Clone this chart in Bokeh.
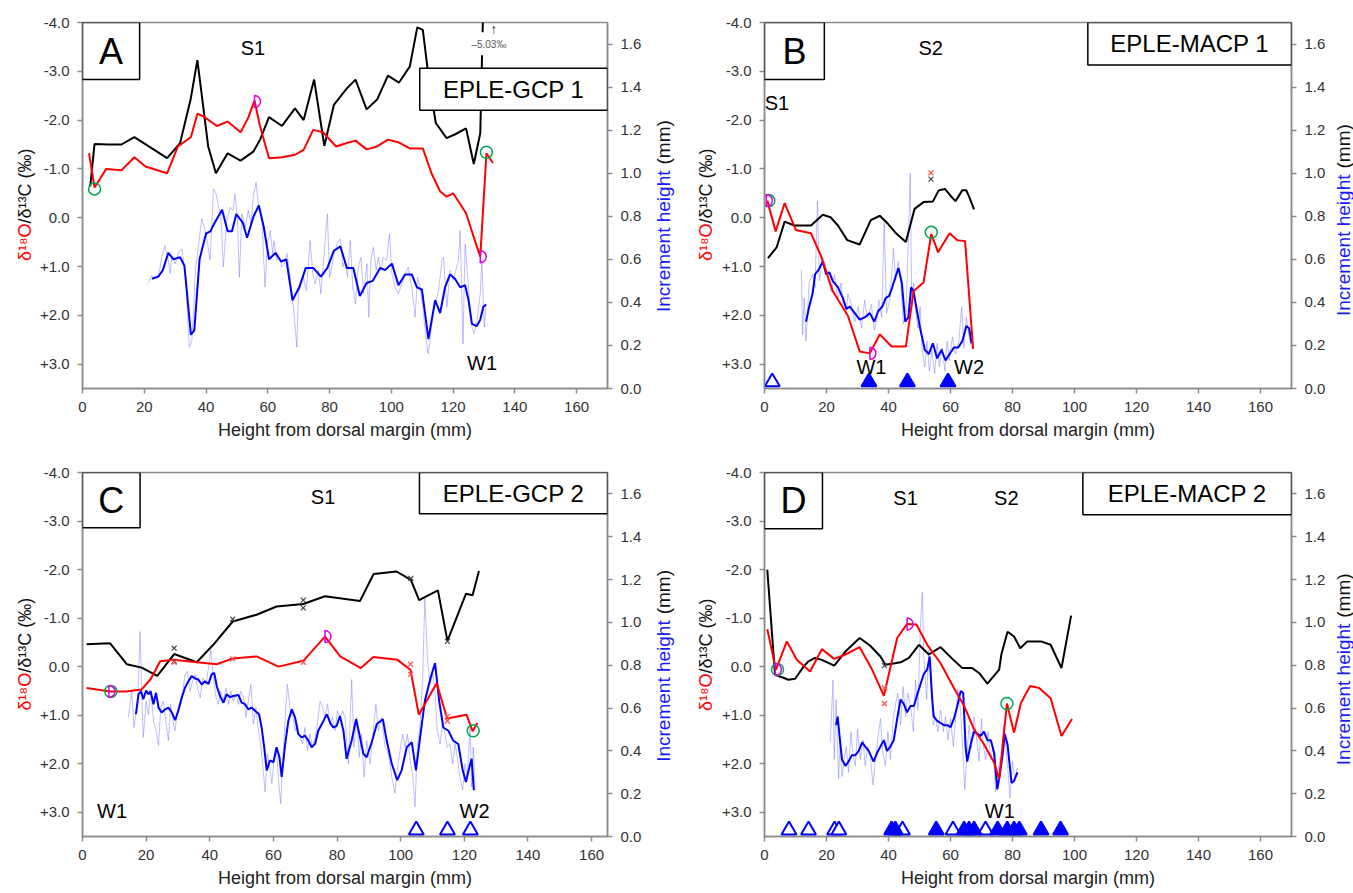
import math
from bokeh.plotting import figure
from bokeh.models import Range1d, LinearAxis, FixedTicker, Label, BoxAnnotation, PrintfTickFormatter
from bokeh.layouts import column, row
from bokeh.embed import file_html
from bokeh.resources import INLINE

FONT = "Liberation Sans"
AX_COLOR = "#8a8a8a"
X_TICKS = [0, 20, 40, 60, 80, 100, 120, 140, 160]
D_TICKS = [-4, -3, -2, -1, 0, 1, 2, 3]
D_LABELS = ["-4.0", "-3.0", "-2.0", "-1.0", "0.0", "+1.0", "+2.0", "+3.0"]
INC_TICKS = [0.0, 0.2, 0.4, 0.6, 0.8, 1.0, 1.2, 1.4, 1.6]
X_LABEL = "Height from dorsal margin (mm)"
Y_LABEL_RED = "δ¹⁸O"
Y_LABEL_BLACK = "/δ¹³C (‰)"
Y2_LABEL_BLUE = "Increment height"
Y2_LABEL_BLACK = "(mm)"
TRI_LEVEL = 0.03

# ---------------- Panel A : EPLE-GCP 1 ----------------
A_black_x = [2.5, 3.9, 8.4, 12.6, 16.8, 27.4, 31.6, 35.0, 37.2, 40.7, 43.2, 47.0, 51.2, 55.4, 57.5, 60.4, 64.6, 68.8, 71.6, 75.0,
             78.3, 81.4, 85.6, 88.4, 92.0, 95.4, 98.9, 102.5, 106.0, 108.4, 110.2, 112.3, 114.4, 117.9, 120.7, 124.2, 126.7, 128.8, 130.0]
A_black = [-0.64, -1.51, -1.50, -1.50, -1.65, -1.22, -1.53, -2.42, -3.23, -1.46, -0.91, -1.32, -1.17, -1.36, -1.60, -2.06, -1.88, -2.24, -2.00, -2.83,
           -1.47, -2.31, -2.65, -2.83, -2.22, -2.42, -2.91, -2.77, -3.10, -3.90, -3.85, -2.76, -1.94, -1.63, -1.71, -1.83, -1.10, -1.73, -5.03]
A_red_x = [2.1, 3.9, 7.7, 12.6, 16.8, 20.4, 27.4, 30.9, 35.1, 37.2, 39.3, 43.5, 47.0, 51.2, 53.6, 55.7, 57.5, 60.4, 64.6, 68.8, 71.6,
           74.7, 77.9, 82.1, 85.6, 88.4, 92.0, 95.4, 98.9, 102.5, 106.0, 110.2, 113.0, 115.8, 117.9, 120.0, 122.1, 124.2, 126.3, 128.8, 130.8, 132.9]
A_red = [-1.32, -0.62, -1.00, -0.97, -1.24, -1.05, -0.91, -1.46, -1.65, -2.13, -2.07, -1.88, -1.97, -1.75, -2.04, -2.40, -1.87, -1.22, -1.24, -1.29, -1.39,
         -1.80, -1.75, -1.46, -1.53, -1.58, -1.40, -1.46, -1.60, -1.54, -1.42, -1.42, -0.91, -0.54, -0.43, -0.50, -0.30, -0.09, 0.32, 0.80, -1.32, -1.12]
A_inc_x = [22.5, 24.6, 26.0, 27.8, 29.5, 31.6, 33.0, 35.1, 36.2, 37.9, 40.0, 41.4, 42.8, 45.2, 47.0, 48.4, 49.8, 51.9, 53.3, 55.4,
           57.1, 58.7, 60.4, 62.5, 64.3, 66.0, 68.0, 70.2, 72.3, 74.7, 77.2, 79.3, 81.4, 83.5, 85.6, 87.7, 89.8, 92.0, 94.0, 96.4,
           98.0, 100.2, 102.3, 104.5, 106.6, 108.3, 109.9, 112.0, 114.2, 115.8, 117.4, 119.0, 120.6, 122.3, 123.9, 125.0, 126.1, 127.7, 128.8, 129.8, 130.7]
A_inc = [0.51, 0.52, 0.55, 0.63, 0.60, 0.61, 0.57, 0.25, 0.27, 0.60, 0.72, 0.73, 0.77, 0.83, 0.73, 0.73, 0.81, 0.77, 0.70, 0.80,
         0.85, 0.75, 0.60, 0.63, 0.59, 0.60, 0.41, 0.47, 0.56, 0.56, 0.52, 0.56, 0.64, 0.66, 0.56, 0.56, 0.43, 0.49, 0.50, 0.56,
         0.55, 0.58, 0.48, 0.53, 0.53, 0.47, 0.46, 0.23, 0.41, 0.35, 0.47, 0.53, 0.51, 0.47, 0.48, 0.41, 0.30, 0.29, 0.32, 0.38, 0.39]
A_raw_x = [21.3, 22.4, 23.5, 24.6, 25.7, 26.7, 27.8, 28.4, 28.9, 30.0, 31.1, 32.2, 32.7, 33.5, 34.0, 34.6, 35.4, 35.9, 36.5, 37.5,
           38.6, 39.4, 40.2, 41.3, 42.4, 43.3, 44.0, 44.8, 45.6, 46.7, 47.8, 48.7, 49.4, 50.2, 50.8, 51.6, 52.7, 53.7, 54.5, 55.3,
           56.2, 57.0, 58.1, 59.1, 59.9, 60.8, 61.6, 62.0, 62.9, 63.8, 64.5, 65.3, 66.2, 67.0, 67.8, 68.5, 69.4, 69.9, 70.7, 71.5,
           72.4, 73.1, 73.7, 74.6, 75.3, 76.4, 77.2, 78.0, 78.9, 79.3, 80.0, 80.7, 81.5, 82.4, 83.5, 84.3, 85.0, 85.8, 86.7, 87.5,
           88.4, 89.3, 90.2, 91.0, 92.1, 92.7, 93.4, 94.2, 95.1, 95.8, 96.6, 97.4, 98.5, 99.4, 100.2, 101.2, 102.3, 103.4, 104.5, 105.5,
           106.6, 107.7, 108.5, 109.3, 110.2, 111.3, 112.0, 113.6, 115.3, 116.4, 116.9, 118.0, 119.0, 120.1, 121.7, 122.3, 123.2, 123.9,
           124.6, 125.3, 126.1, 126.8, 127.7, 128.8, 129.3, 130.1, 130.7]
A_raw = [0.489, 0.525, 0.509, 0.525, 0.610, 0.664, 0.595, 0.533, 0.610, 0.579, 0.633, 0.649, 0.595, 0.517, 0.331, 0.192, 0.223, 0.331, 0.548, 0.656,
         0.788, 0.749, 0.703, 0.595, 0.927, 0.904, 0.842, 0.811, 0.564, 0.780, 0.842, 0.827, 0.904, 0.780, 0.517, 0.811, 0.749, 0.827, 0.765, 0.889,
         0.958, 0.842, 0.796, 0.471, 0.672, 0.734, 0.626, 0.687, 0.595, 0.610, 0.564, 0.579, 0.626, 0.548, 0.440, 0.347, 0.192, 0.440, 0.486, 0.517,
         0.455, 0.564, 0.687, 0.533, 0.486, 0.548, 0.440, 0.579, 0.749, 0.811, 0.517, 0.564, 0.626, 0.672, 0.695, 0.564, 0.595, 0.517, 0.687, 0.471,
         0.393, 0.564, 0.610, 0.440, 0.579, 0.331, 0.595, 0.656, 0.548, 0.610, 0.548, 0.610, 0.595, 0.718, 0.533, 0.471, 0.440, 0.486, 0.533, 0.564,
         0.471, 0.331, 0.517, 0.471, 0.378, 0.223, 0.161, 0.362, 0.455, 0.595, 0.610, 0.378, 0.548, 0.502, 0.595, 0.734, 0.207, 0.672,
         0.548, 0.409, 0.285, 0.254, 0.316, 0.440, 0.595, 0.285, 0.393]
A_green_x = [3.9, 130.8]
A_green = [-0.59, -1.34]
A_mag_x = [55.7, 128.8]
A_mag = [-2.38, 0.80]

# ---------------- Panel B : EPLE-MACP 1 ----------------
B_black_x = [1.1, 3.9, 6.5, 9.6, 15.0, 18.8, 21.3, 23.7, 26.7, 30.7, 34.3, 37.2, 39.9, 42.6, 45.6, 48.4, 51.3, 54.3, 56.2, 58.2,
             60.0, 61.6, 63.8, 65.1, 66.0, 67.6]
B_black = [0.83, 0.61, 0.08, 0.16, 0.16, -0.06, -0.01, 0.16, 0.46, 0.55, 0.05, -0.04, 0.13, 0.33, 0.50, -0.18, -0.32, -0.33, -0.56, -0.59,
           -0.45, -0.34, -0.56, -0.56, -0.43, -0.17]
B_red_x = [0.9, 3.6, 6.5, 10.1, 15.0, 18.2, 22.0, 26.9, 30.7, 34.0, 37.2, 41.0, 45.6, 48.1, 51.3, 53.8, 56.0, 59.7, 62.2, 64.7, 67.3]
B_red = [-0.35, 0.28, -0.30, 0.25, 0.32, 0.78, 1.50, 2.01, 2.74, 2.78, 2.39, 2.64, 2.64, 1.50, 1.33, 0.33, 0.71, 0.32, 0.46, 0.48, 2.69]
B_inc_x = [13.4, 14.4, 15.5, 16.3, 17.4, 18.8, 19.9, 20.9, 22.0, 23.7, 25.3, 26.4, 27.5, 29.1, 30.7, 32.3, 34.0, 35.4, 36.7, 38.0,
           39.1, 40.2, 41.2, 42.3, 43.2, 44.3, 45.4, 46.4, 47.3, 48.1, 49.2, 50.2, 51.7, 53.0, 54.3, 55.7, 57.1, 58.4, 59.7, 61.1,
           62.5, 63.8, 65.1, 66.0, 66.8]
B_inc = [0.31, 0.38, 0.44, 0.53, 0.55, 0.59, 0.53, 0.54, 0.50, 0.47, 0.42, 0.37, 0.38, 0.35, 0.32, 0.33, 0.35, 0.31, 0.36, 0.38,
         0.42, 0.43, 0.47, 0.52, 0.56, 0.49, 0.31, 0.33, 0.47, 0.45, 0.36, 0.28, 0.18, 0.16, 0.21, 0.14, 0.18, 0.13, 0.16, 0.19,
         0.19, 0.22, 0.29, 0.28, 0.21]
B_raw_x = [11.9, 12.3, 12.8, 13.4, 14.4, 15.5, 16.3, 17.1, 17.7, 18.8, 19.9, 20.6, 21.5, 22.6, 23.7, 24.7, 25.3, 26.4, 26.9, 28.0,
           29.1, 30.2, 31.3, 32.3, 33.2, 34.5, 35.4, 36.1, 36.9, 37.8, 38.6, 39.4, 40.5, 41.6, 42.3, 43.2, 44.1, 44.8, 45.6, 46.4,
           47.0, 47.5, 48.1, 48.6, 49.5, 50.2, 50.8, 51.7, 52.4, 53.2, 54.0, 54.9, 55.7, 56.4, 57.3, 58.2, 58.9, 59.7, 60.6, 61.6,
           62.7, 63.6, 64.3, 65.1, 66.0, 66.8]
B_raw = [0.55, 0.25, 0.42, 0.22, 0.49, 0.53, 0.47, 0.87, 0.50, 0.61, 0.56, 0.50, 0.45, 0.53, 0.41, 0.49, 0.38, 0.35, 0.44, 0.39,
         0.31, 0.38, 0.28, 0.41, 0.33, 0.39, 0.27, 0.31, 0.41, 0.33, 0.77, 0.35, 0.42, 0.65, 0.50, 0.59, 0.47, 0.30, 0.35, 0.67,
         1.00, 0.38, 0.49, 0.38, 0.28, 0.38, 0.19, 0.10, 0.22, 0.08, 0.18, 0.07, 0.21, 0.10, 0.19, 0.08, 0.22, 0.13, 0.24, 0.16,
         0.22, 0.38, 0.19, 0.33, 0.24, 0.19]
B_green_x = [1.4, 53.8]
B_green = [-0.35, 0.30]
B_mag_x = [0.6, 34.0]
B_mag = [-0.35, 2.78]
B_xblack_x = [53.7]
B_xblack = [-0.79]
B_xred_x = [53.7]
B_xred = [-0.92]
B_tri_open_x = [2.5]
B_tri_fill_x = [33.7, 46.1, 59.2]

# ---------------- Panel C : EPLE-GCP 2 ----------------
C_black_x = [1.3, 8.7, 13.9, 18.6, 23.5, 28.8, 35.9, 41.1, 47.2, 54.7, 61.0, 69.4, 76.2, 87.2, 91.5, 98.7, 103.2, 105.8, 111.7, 114.7,
             120.5, 122.6, 124.6]
C_black = [-0.46, -0.48, -0.05, 0.02, 0.19, -0.26, -0.09, -0.45, -0.93, -1.07, -1.24, -1.29, -1.45, -1.35, -1.91, -1.96, -1.79, -1.37, -1.57, -0.53,
           -1.50, -1.47, -1.97]
C_red_x = [1.3, 8.7, 13.6, 18.6, 21.5, 24.4, 28.6, 35.9, 42.2, 47.2, 54.7, 61.6, 69.4, 76.2, 81.0, 87.5, 91.4, 99.0, 103.1, 105.7,
           111.3, 114.6, 120.7, 122.6, 124.1]
C_red = [0.44, 0.51, 0.51, 0.47, 0.25, -0.11, -0.14, -0.09, -0.05, -0.17, -0.21, 0.00, -0.12, -0.62, -0.21, 0.03, -0.20, -0.14, 0.07, 0.99,
         0.34, 1.07, 0.99, 1.33, 1.16]
C_inc_x = [16.8, 17.6, 18.4, 19.1, 20.0, 20.7, 21.4, 22.3, 23.1, 23.9, 24.9, 26.0, 27.0, 28.1, 29.1, 30.1, 31.2, 32.2, 33.3, 34.3,
           35.4, 36.4, 37.5, 38.5, 39.6, 40.6, 41.4, 42.2, 43.2, 44.3, 45.3, 46.4, 47.4, 49.0, 50.0, 51.1, 52.1, 53.2, 54.2, 55.5,
           56.3, 57.1, 57.9, 58.9, 60.0, 61.0, 61.9, 62.6, 63.7, 64.7, 65.8, 66.8, 67.8, 68.9, 69.9, 71.0, 72.0, 73.1, 74.1, 75.2,
           76.8, 77.8, 78.8, 79.9, 80.9, 82.0, 83.0, 84.6, 86.0, 87.0, 88.3, 89.3, 90.9, 92.5, 94.4, 95.6, 97.2, 98.9, 100.3, 101.9,
           103.5, 104.8, 106.1, 107.6, 109.4, 110.8, 112.1, 113.4, 115.0, 116.5, 118.1, 119.5, 120.5, 121.6, 122.3, 123.0]
C_inc = [0.571, 0.664, 0.679, 0.641, 0.682, 0.664, 0.679, 0.618, 0.671, 0.602, 0.579, 0.594, 0.602, 0.579, 0.543, 0.587, 0.648, 0.695, 0.725, 0.749,
         0.738, 0.733, 0.710, 0.725, 0.713, 0.757, 0.764, 0.702, 0.656, 0.625, 0.664, 0.651, 0.656, 0.661, 0.625, 0.618, 0.594, 0.602, 0.587, 0.571,
         0.509, 0.417, 0.309, 0.355, 0.347, 0.417, 0.370, 0.278, 0.432, 0.540, 0.594, 0.556, 0.479, 0.463, 0.471, 0.448, 0.417, 0.432, 0.494, 0.525,
         0.571, 0.532, 0.509, 0.517, 0.563, 0.494, 0.363, 0.448, 0.548, 0.479, 0.386, 0.370, 0.440, 0.525, 0.548, 0.448, 0.340, 0.263, 0.309, 0.417,
         0.440, 0.309, 0.463, 0.633, 0.741, 0.810, 0.633, 0.509, 0.494, 0.448, 0.432, 0.309, 0.255, 0.324, 0.363, 0.216]
C_raw_x = [14.4, 15.5, 16.2, 17.3, 18.1, 18.6, 19.1, 20.0, 20.7, 21.5, 22.3, 23.1, 23.9, 24.6, 25.4, 26.3, 27.0, 27.7, 28.6, 29.1,
           29.8, 30.7, 31.5, 32.2, 33.0, 33.8, 34.6, 35.4, 36.1, 37.0, 37.8, 38.8, 39.6, 40.3, 41.1, 42.0, 42.7, 43.4, 44.3, 45.1,
           45.9, 46.6, 47.4, 48.3, 49.0, 49.7, 50.6, 51.4, 52.1, 52.9, 53.7, 54.5, 55.3, 56.0, 56.8, 57.4, 58.1, 58.7, 59.5, 60.2,
           61.0, 61.6, 62.3, 62.9, 63.7, 64.4, 65.2, 66.1, 66.8, 67.5, 68.4, 69.2, 69.9, 70.7, 71.5, 72.3, 73.1, 73.8, 74.7, 75.5,
           76.2, 77.0, 77.8, 78.6, 79.4, 80.1, 80.9, 81.8, 82.5, 83.6, 84.6, 85.3, 86.2, 87.0, 87.7, 88.5, 89.3, 90.4, 91.4, 92.2,
           93.0, 94.0, 95.1, 96.1, 97.2, 98.2, 98.9, 99.8, 100.6, 101.4, 102.1, 102.9, 103.8, 104.5, 105.2, 106.1, 106.9, 107.6, 108.4, 109.2,
           110.1, 110.8, 111.5, 112.4, 113.2, 113.9, 114.7, 115.5, 116.3, 117.1, 117.8, 118.6, 119.5, 120.2, 120.9, 121.8, 122.3, 122.8, 123.4]
C_raw = [0.556, 0.679, 0.509, 0.633, 0.957, 0.679, 0.463, 0.633, 0.571, 0.679, 0.540, 0.494, 0.425, 0.602, 0.633, 0.525, 0.448, 0.617, 0.525, 0.494,
         0.587, 0.633, 0.679, 0.756, 0.772, 0.679, 0.726, 0.756, 0.695, 0.648, 0.741, 0.710, 0.787, 0.872, 0.741, 0.648, 0.617, 0.679, 0.633, 0.695,
         0.617, 0.679, 0.633, 0.664, 0.617, 0.679, 0.648, 0.556, 0.633, 0.710, 0.525, 0.602, 0.494, 0.432, 0.309, 0.208, 0.386, 0.340, 0.247, 0.355,
         0.401, 0.263, 0.154, 0.340, 0.556, 0.710, 0.602, 0.556, 0.494, 0.525, 0.463, 0.432, 0.509, 0.401, 0.479, 0.417, 0.463, 0.525, 0.633, 0.602,
         0.556, 0.617, 0.525, 0.556, 0.494, 0.587, 0.556, 0.587, 0.556, 0.340, 0.733, 0.417, 0.556, 0.370, 0.479, 0.278, 0.448, 0.340, 0.494, 0.617,
         0.494, 0.556, 0.417, 0.386, 0.278, 0.201, 0.309, 0.401, 0.479, 0.417, 0.479, 0.370, 0.278, 0.139, 0.417, 0.525, 0.741, 1.111, 0.834, 0.710,
         0.756, 0.679, 0.494, 0.432, 0.540, 0.479, 0.417, 0.432, 0.340, 0.432, 0.370, 0.278, 0.216, 0.340, 0.278, 0.509, 0.231, 0.417, 0.216]
C_green_x = [8.9, 122.8]
C_green = [0.51, 1.32]
C_mag_x = [8.3, 76.2]
C_mag = [0.51, -0.62]
C_xblack_x = [28.8, 28.8, 47.2, 69.4, 69.4, 103.2, 114.7]
C_xblack = [-0.38, -0.11, -0.98, -1.37, -1.21, -1.82, -0.52]
C_xred_x = [28.8, 47.2, 69.4, 103.1, 103.1, 114.7, 114.7]
C_xred = [-0.09, -0.16, -0.09, -0.05, 0.16, 1.03, 1.12]
C_tri_open_x = [104.9, 114.7, 121.9]
C_tri_fill_x = []

# ---------------- Panel D : EPLE-MACP 2 ----------------
D_black_x = [0.9, 3.4, 6.1, 7.7, 9.9, 12.6, 14.2, 16.3, 18.5, 22.5, 26.1, 30.7, 34.1, 37.4, 39.0, 41.2, 43.9, 46.6, 49.8, 53.0,
             56.8, 60.6, 63.8, 67.0, 69.2, 71.9, 75.7, 76.4, 78.4, 80.5, 82.5, 84.8, 89.2, 92.3, 95.8, 98.9]
D_black = [-2.00, 0.17, 0.23, 0.27, 0.25, 0.00, -0.11, -0.18, -0.14, -0.02, -0.31, -0.59, -0.43, -0.21, -0.04, -0.06, -0.09, -0.18, -0.45, -0.25,
           -0.40, -0.16, 0.03, 0.03, 0.13, 0.35, 0.06, -0.25, -0.72, -0.62, -0.38, -0.52, -0.52, -0.45, 0.03, -1.05]
D_red_x = [0.9, 3.7, 7.2, 10.4, 14.7, 18.5, 22.5, 26.1, 30.7, 34.7, 38.5, 42.8, 46.0, 49.0, 52.5, 56.8, 61.1, 64.4, 67.6, 70.8,
           74.1, 75.7, 78.2, 80.5, 82.7, 85.7, 88.6, 92.3, 95.8, 99.2]
D_red = [-0.77, 0.06, -0.52, -0.14, 0.10, -0.36, -0.16, -0.25, -0.40, 0.06, 0.60, -0.59, -0.88, -0.87, -0.45, -0.07, 0.44, 0.81, 1.29, 1.60,
         1.98, 2.32, 0.76, 1.36, 0.75, 0.40, 0.44, 0.65, 1.43, 1.08]
D_inc_x = [23.1, 23.6, 24.2, 25.0, 26.1, 27.1, 28.2, 29.3, 30.4, 31.5, 32.5, 33.6, 35.2, 36.3, 37.4, 38.5, 39.5, 40.6, 41.7, 42.8,
           43.9, 44.9, 46.0, 47.1, 48.2, 49.2, 50.3, 51.4, 52.5, 53.3, 54.1, 54.6, 55.7, 56.8, 57.9, 59.0, 60.0, 61.1, 62.2, 63.3,
           64.1, 64.9, 65.4, 66.5, 67.6, 68.7, 69.7, 70.8, 71.9, 73.0, 74.1, 74.6, 75.1, 76.0, 76.8, 77.5, 78.4, 78.9, 79.7, 80.5, 81.6]
D_inc = [0.52, 0.56, 0.47, 0.36, 0.33, 0.35, 0.38, 0.38, 0.40, 0.44, 0.42, 0.40, 0.35, 0.39, 0.42, 0.45, 0.40, 0.42, 0.45, 0.55,
         0.64, 0.62, 0.58, 0.61, 0.61, 0.66, 0.71, 0.76, 0.78, 0.84, 0.64, 0.56, 0.54, 0.53, 0.52, 0.52, 0.51, 0.55, 0.61, 0.68,
         0.67, 0.41, 0.35, 0.43, 0.49, 0.48, 0.47, 0.49, 0.45, 0.45, 0.39, 0.30, 0.22, 0.30, 0.38, 0.48, 0.43, 0.36, 0.25, 0.26, 0.30]
D_raw_x = [21.2, 22.1, 22.5, 23.1, 23.9, 24.4, 25.0, 25.7, 26.4, 27.1, 27.9, 28.5, 29.3, 30.0, 30.9, 31.8, 32.5, 33.3, 34.1, 35.0,
           35.8, 36.5, 37.4, 38.2, 39.0, 39.8, 40.6, 41.5, 42.2, 43.0, 43.9, 44.7, 45.5, 46.2, 47.1, 48.0, 48.7, 49.5, 50.3, 50.9,
           51.4, 52.3, 53.0, 53.8, 54.4, 55.2, 55.9, 56.8, 57.7, 58.4, 59.2, 60.0, 60.9, 61.7, 62.4, 63.3, 63.9, 64.6, 65.2, 66.0,
           66.7, 67.6, 68.5, 69.2, 70.0, 70.6, 71.4, 72.1, 73.0, 73.8, 74.5, 75.1, 75.8, 76.4, 77.1, 77.8, 78.6, 79.2, 80.0, 80.7, 81.6]
D_raw = [0.44, 0.73, 0.36, 0.64, 0.27, 0.44, 0.28, 0.36, 0.42, 0.30, 0.49, 0.38, 0.33, 0.50, 0.36, 0.45, 0.33, 0.42, 0.38, 0.24,
         0.36, 0.45, 0.55, 0.39, 0.33, 0.49, 0.36, 0.55, 0.61, 0.67, 0.52, 0.70, 0.56, 0.67, 0.61, 0.49, 0.73, 0.59, 0.98, 1.14,
         0.83, 0.64, 0.87, 0.70, 0.52, 0.56, 0.49, 0.59, 0.49, 0.56, 0.45, 0.55, 0.42, 0.56, 0.69, 0.58, 0.42, 0.22, 0.36, 0.52,
         0.41, 0.56, 0.45, 0.35, 0.55, 0.42, 0.36, 0.49, 0.36, 0.42, 0.21, 0.27, 0.35, 0.36, 0.52, 0.42, 0.30, 0.18, 0.35, 0.27, 0.32]
D_green_x = [4.2, 78.2]
D_green = [0.06, 0.76]
D_mag_x = [3.5, 46.0]
D_mag = [0.06, -0.88]
D_xblack_x = [38.7]
D_xblack = [-0.02]
D_xred_x = [38.7, 38.7]
D_xred = [0.44, 0.76]
D_tri_open_x = [7.9, 14.2, 22.6, 24.0, 44.5, 60.8, 71.3]
D_tri_fill_x = [41.0, 42.2, 55.4, 64.4, 66.0, 67.6, 75.2, 78.3, 80.5, 82.2, 89.2, 95.5]


def pair(x, y):
    n = min(len(x), len(y))
    return list(x[:n]), list(y[:n])


def style_axis(ax):
    ax.axis_line_color = AX_COLOR
    ax.axis_line_width = 1.5
    ax.major_tick_line_color = AX_COLOR
    ax.major_tick_line_width = 1.5
    ax.major_tick_in = 0
    ax.major_tick_out = 5
    ax.minor_tick_line_color = None
    ax.major_label_text_font = FONT
    ax.major_label_text_font_size = "15px"
    ax.major_label_text_color = "#333333"
    ax.major_label_standoff = 8


def panel(W, H, left, top, fw, fh, xmax):
    p = figure(width=W, height=H, x_range=Range1d(0, xmax), y_range=Range1d(3.5, -4.0),
               output_backend="svg", toolbar_location=None,
               min_border_left=left, min_border_right=W - left - fw,
               min_border_top=top, min_border_bottom=H - top - fh)
    p.extra_y_ranges = {"inc": Range1d(0, 1.7)}
    p.grid.visible = False
    p.outline_line_color = AX_COLOR
    p.outline_line_width = 1.5
    p.xaxis.ticker = FixedTicker(ticks=X_TICKS)
    p.xaxis.axis_label = X_LABEL
    p.xaxis.axis_label_text_font = FONT
    p.xaxis.axis_label_text_font_size = "18px"
    p.xaxis.axis_label_text_font_style = "normal"
    p.xaxis.axis_label_text_color = "#222222"
    p.xaxis.axis_label_standoff = 5
    p.yaxis.ticker = FixedTicker(ticks=D_TICKS)
    p.yaxis.major_label_overrides = dict(zip(D_TICKS, D_LABELS))
    rax = LinearAxis(y_range_name="inc", ticker=FixedTicker(ticks=INC_TICKS),
                     formatter=PrintfTickFormatter(format="%.1f"))
    p.add_layout(rax, "right")
    for ax in p.axis:
        style_axis(ax)
    return p


def side(W, H, top, fh, x, y_split_from_top, texts_colors, size, gap):
    """Narrow strip carrying a two-colour rotated axis title.
    Its frame matches the neighbouring plot's frame; data units are pixels from the strip's top."""
    s = figure(width=W, height=H, x_range=Range1d(0, W), y_range=Range1d(top + fh, top),
               x_axis_type=None, y_axis_type=None, output_backend="svg", toolbar_location=None,
               min_border=0, min_border_left=0, min_border_right=0,
               min_border_top=top, min_border_bottom=H - top - fh)
    s.outline_line_color = None
    s.grid.visible = False
    (t1, c1), (t2, c2) = texts_colors
    common = dict(x=x, angle=math.pi / 2, text_baseline="middle", text_font=FONT, text_font_size=size)
    s.add_layout(Label(y=y_split_from_top + gap, text=t1, text_align="right", text_color=c1, **common))
    s.add_layout(Label(y=y_split_from_top - gap, text=t2, text_align="left", text_color=c2, **common))
    return s


def series(p, bx, by, rx, ry, ix, iy, wx, wy):
    x, y = pair(wx, wy)
    p.line(x, y, y_range_name="inc", line_color="#6e6eff", line_alpha=0.45, line_width=1)
    x, y = pair(ix, iy)
    p.line(x, y, y_range_name="inc", line_color="#0000ff", line_width=2)
    x, y = pair(bx, by)
    p.line(x, y, line_color="#000000", line_width=2)
    x, y = pair(rx, ry)
    p.line(x, y, line_color="#ff0000", line_width=2)


def markers(p, gx, gy, mx, my, xbx=(), xby=(), xrx=(), xry=(), topen=(), tfill=()):
    if xbx:
        x, y = pair(xbx, xby)
        p.scatter(x, y, marker="x", size=7, line_color="#444444", line_width=1.2)
    if xrx:
        x, y = pair(xrx, xry)
        p.scatter(x, y, marker="x", size=7, line_color="#ff5050", line_width=1.2)
    x, y = pair(gx, gy)
    p.scatter(x, y, marker="circle", size=12, fill_color=None, line_color="#00a650", line_width=1.5)
    x, y = pair(mx, my)
    p.wedge(x, y, radius=6, radius_units="screen", start_angle=-math.pi / 2, end_angle=math.pi / 2,
            fill_color=None, line_color="#e000e0", line_width=1.5)
    if topen:
        p.scatter(list(topen), [TRI_LEVEL] * len(topen), y_range_name="inc", marker="triangle", size=15,
                  fill_color="white", line_color="#0000ff", line_width=2)
    if tfill:
        p.scatter(list(tfill), [TRI_LEVEL] * len(tfill), y_range_name="inc", marker="triangle", size=15,
                  fill_color="#0000ff", line_color="#0000ff", line_width=2)


def box(p, l, r, t, b, text, size):
    p.add_layout(BoxAnnotation(left=l, right=r, top=t, bottom=b, fill_color="white", fill_alpha=1.0,
                               line_color="black", line_width=1.5, line_alpha=1.0))
    p.add_layout(Label(x=(l + r) / 2, y=(t + b) / 2, text=text, text_align="center", text_baseline="middle",
                       text_font=FONT, text_font_size=size, text_color="black"))


def note(p, x, y, text, size="20px", color="black"):
    p.add_layout(Label(x=x, y=y, text=text, text_align="center", text_baseline="middle",
                       text_font=FONT, text_font_size=size, text_color=color))


LEFT_TITLE = [(Y_LABEL_RED, "#ff0000"), (Y_LABEL_BLACK, "#111111")]
RIGHT_TITLE = [(Y2_LABEL_BLUE, "#1a1aff"), (Y2_LABEL_BLACK, "#111111")]

H_TOP, H_BOT = 445, 448

# ---- A  (strip 36 | plot 614 | strip 30)
pA = panel(614, H_TOP, 46, 22, 525, 366, 170)
series(pA, A_black_x, A_black, A_red_x, A_red, A_inc_x, A_inc, A_raw_x, A_raw)
markers(pA, A_green_x, A_green, A_mag_x, A_mag)
pA.add_layout(BoxAnnotation(left=127.3, right=136.0, top=-3.80, bottom=-3.33, fill_color="white", fill_alpha=1.0,
                            line_color=None))
note(pA, 131.6, -3.55, "\u20135.03\u2030", size="10px", color="#555555")
note(pA, 133.2, -3.86, "\u2191", size="14px", color="#333333")
box(pA, 0, 18.5, -4.0, -2.83, "A", "36px")
box(pA, 109.2, 170, -3.06, -2.20, "EPLE-GCP 1", "24px")
note(pA, 55.2, -3.47, "S1")
note(pA, 129.4, 2.98, "W1")
lA = side(36, H_TOP, 22, 366, 24, 223, LEFT_TITLE, "18px", 0)
rA = side(30, H_TOP, 22, 366, 13, 167, RIGHT_TITLE, "19px", 3)

# ---- B  (strip 36 | plot 617 | strip 20)
pB = panel(617, H_TOP, 48, 22, 527, 366, 170)
series(pB, B_black_x, B_black, B_red_x, B_red, B_inc_x, B_inc, B_raw_x, B_raw)
markers(pB, B_green_x, B_green, B_mag_x, B_mag, B_xblack_x, B_xblack, B_xred_x, B_xred, B_tri_open_x, B_tri_fill_x)
box(pB, 0, 19.3, -4.0, -2.83, "B", "36px")
box(pB, 104.3, 170, -4.0, -3.13, "EPLE-MACP 1", "24px")
note(pB, 4.0, -2.35, "S1")
note(pB, 53.6, -3.48, "S2")
note(pB, 34.5, 3.05, "W1")
note(pB, 66.0, 3.05, "W2")
lB = side(36, H_TOP, 22, 366, 25, 223, LEFT_TITLE, "18px", 0)
rB = side(20, H_TOP, 22, 366, 10, 171, RIGHT_TITLE, "19px", 3)

# ---- C
pC = panel(614, H_BOT, 46, 24, 525, 367, 165)
series(pC, C_black_x, C_black, C_red_x, C_red, C_inc_x, C_inc, C_raw_x, C_raw)
markers(pC, C_green_x, C_green, C_mag_x, C_mag, C_xblack_x, C_xblack, C_xred_x, C_xred, C_tri_open_x, C_tri_fill_x)
box(pC, 0, 18.1, -4.0, -2.86, "C", "36px")
box(pC, 105.9, 165, -4.0, -3.15, "EPLE-GCP 2", "24px")
note(pC, 75.6, -3.49, "S1")
note(pC, 9.3, 2.98, "W1")
note(pC, 123.2, 2.98, "W2")
lC = side(36, H_BOT, 24, 367, 24, 226, LEFT_TITLE, "18px", 0)
rC = side(30, H_BOT, 24, 367, 13, 170, RIGHT_TITLE, "19px", 3)

# ---- D
pD = panel(617, H_BOT, 48, 27, 527, 366, 170)
series(pD, D_black_x, D_black, D_red_x, D_red, D_inc_x, D_inc, D_raw_x, D_raw)
markers(pD, D_green_x, D_green, D_mag_x, D_mag, D_xblack_x, D_xblack, D_xred_x, D_xred, D_tri_open_x, D_tri_fill_x)
box(pD, 0, 18.7, -4.0, -2.84, "D", "36px")
box(pD, 102.7, 170, -4.0, -3.13, "EPLE-MACP 2", "24px")
note(pD, 45.5, -3.47, "S1")
note(pD, 78.0, -3.47, "S2")
note(pD, 75.9, 2.97, "W1")
lD = side(36, H_BOT, 27, 366, 25, 229, LEFT_TITLE, "18px", 0)
rD = side(20, H_BOT, 27, 366, 10, 176, RIGHT_TITLE, "19px", 3)

layout = column(row(lA, pA, rA, lB, pB, rB), row(lC, pC, rC, lD, pD, rD))
open("out.html", "w").write(file_html(layout, INLINE, "Shell profiles"))
